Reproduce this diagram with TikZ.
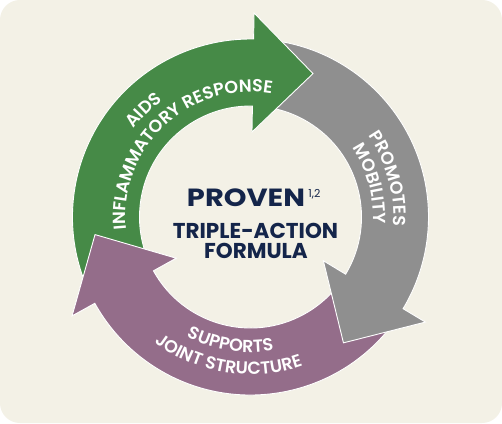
\documentclass[tikz,border=0pt]{standalone}
\usepackage{graphicx}
\usepackage{fontspec}
\setmainfont{Poppins}
\newfontfamily\semifam{Poppins}[UprightFont=* SemiBold]
\usetikzlibrary{calc,decorations.text,positioning}

\definecolor{leafgreen}{HTML}{468A47}
\definecolor{stonegray}{HTML}{8F8F8F}
\definecolor{jointplum}{HTML}{946D8A}
\definecolor{creambg}{HTML}{F3F1E6}
\definecolor{inknavy}{HTML}{14254A}

% ring arrow: #1 tail angle, #2 head base angle (runs clockwise)
\newcommand{\ringarrow}[2]{(#1:178) arc[start angle=#1, end angle=#2, radius=178]
  -- (#2:204) -- ($(#2:144.5)+(#2-90:60)$) -- (#2:85)
  -- (#2:111) arc[start angle=#2, end angle=#1, radius=111] -- cycle}
\newcommand{\arcfont}{\semifam\fontsize{17.5}{17.5}\selectfont}

\begin{document}
\begin{tikzpicture}[x=1pt, y=1pt,
    arrowbody/.style={fill=#1, draw=white, line width=0.9pt},
    arclabel/.style={decorate, decoration={text along path, text align=center,
      text color=white, text={|\arcfont|#1}}},
    centertext/.style={anchor=base, text=inknavy, inner sep=0pt}]
        \useasboundingbox (-250.5,-206) rectangle (251.5,217);
        \fill[white] (-250.5,-206) rectangle (251.5,217);
        \fill[creambg, rounded corners=20pt] (-250.5,-206) rectangle (251.5,217);

        % the three arrows, each head over the next tail
        \path[arrowbody=jointplum] \ringarrow{-33}{-151};
        \path[arrowbody=stonegray] \ringarrow{87}{-31};
        \path[arrowbody=leafgreen] \ringarrow{207}{89};
        \begin{scope}
          \clip (0,0) -- (178:215) -- (222:215) -- cycle;
          \path[arrowbody=jointplum] \ringarrow{-33}{-151};
        \end{scope}

        \path[arclabel=AIDS] (180:146) arc[start angle=180, end angle=90, radius=146];
        \path[arclabel=INFLAMMATORY RESPONSE] (212:125) arc[start angle=212, end angle=54, radius=125];
        \path[arclabel=PROMOTES] (65:143) arc[start angle=65, end angle=-34, radius=143];
        \path[arclabel=MOBILITY] (65:123) arc[start angle=65, end angle=-34, radius=123];
        \path[arclabel=SUPPORTS] (211:135.5) arc[start angle=211, end angle=311, radius=135.5];
        \path[arclabel=JOINT STRUCTURE] (203:157.5) arc[start angle=203, end angle=319, radius=157.5];

        \node[centertext, font=\bfseries] (proven) at (-4.5, 10.3) {\resizebox{118pt}{17.7pt}{PROVEN}};
        \node[text=inknavy, font=\fontsize{11}{11}\selectfont, inner sep=0pt] (supref) [right=3pt of proven.north east, anchor=north west] {1,2};
        \node[centertext, font=\fontsize{21.5}{21.5}\selectfont\bfseries] (tripleaction) at (5, -21.3) {TRIPLE-ACTION};
        \node[centertext, font=\fontsize{21.5}{21.5}\selectfont\bfseries] (formula) at (5.5, -41.3) {FORMULA};
      \end{tikzpicture}
\end{document}
